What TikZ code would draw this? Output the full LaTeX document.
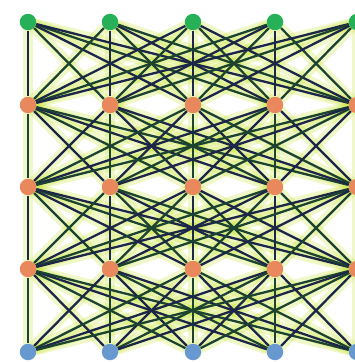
\documentclass[tikz,border=0pt]{standalone}
\usetikzlibrary{backgrounds}
\definecolor{dotgreen}{RGB}{38,176,88}
\definecolor{dotorange}{RGB}{232,136,92}
\definecolor{dotblue}{RGB}{104,152,208}
\definecolor{wirenavy}{RGB}{28,38,72}
\definecolor{wiregreen}{RGB}{28,66,48}
\definecolor{glow}{RGB}{200,228,60}

\begin{document}
\begin{tikzpicture}[x=0.02cm,y=-0.02cm]
  \tikzstyle{dot}=[circle,inner sep=0pt,minimum size=0.33cm]
  \tikzstyle{halo}=[glow,line width=6pt,opacity=0.28,line cap=round]
  \tikzstyle{wire}=[line width=1.3pt]

  \useasboundingbox (0,0) rectangle (355,362);

  % layers: top green, three orange, bottom blue
  \foreach \i/\x in {0/28,1/110,2/193,3/275,4/357} {
    \node[dot,fill=dotgreen]  (l0-\i) at (\x,22)  {};
    \node[dot,fill=dotorange] (l1-\i) at (\x,105) {};
    \node[dot,fill=dotorange] (l2-\i) at (\x,187) {};
    \node[dot,fill=dotorange] (l3-\i) at (\x,269) {};
    \node[dot,fill=dotblue]   (l4-\i) at (\x,352) {};
  }

  \begin{scope}[on background layer]
    \foreach \a/\b in {0/1,1/2,2/3,3/4}
      \foreach \i in {0,...,4}
        \foreach \j in {0,...,4}
          \draw[halo] (l\a-\i) -- (l\b-\j);
    \foreach \a/\b in {0/1,1/2,2/3,3/4}
      \foreach \i in {0,...,4}
        \foreach \j in {0,...,4} {
          \pgfmathtruncatemacro{\k}{mod(\i+\j+\a,2)}
          \ifnum\k=0
            \draw[wire,wirenavy] (l\a-\i) -- (l\b-\j);
          \else
            \draw[wire,wiregreen] (l\a-\i) -- (l\b-\j);
          \fi
        }
  \end{scope}
\end{tikzpicture}
\end{document}
